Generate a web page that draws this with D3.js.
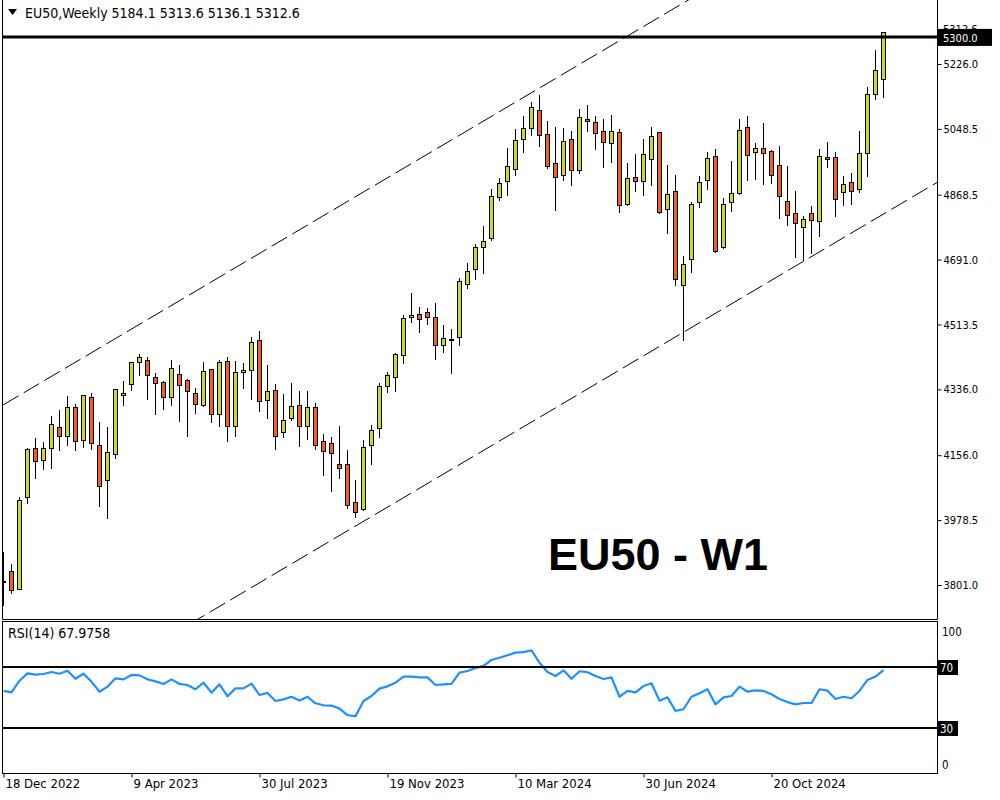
<!DOCTYPE html>
<html><head><meta charset="utf-8">
<script src="https://cdn.jsdelivr.net/npm/d3@7"></script>
<style>
body{margin:0;background:#fff;}
svg{display:block;font-family:"DejaVu Sans Condensed","DejaVu Sans",sans-serif;}
</style></head><body>
<svg id="c" width="1000" height="800"></svg>
<script>
// ---------------- data ----------------
const opens=[3810,3839.3,3790.8,4040.8,4175.7,4142.0,4174.9,4232.3,4207.7,4287.0,4196.7,4314.4,4183.1,4087.3,4158.5,4319.8,4349.9,4410.1,4415.6,4369.0,4355.4,4314.4,4377.3,4360.8,4325.3,4294.1,4390.9,4267.9,4412.8,4236.7,4382.7,4388.2,4470.3,4306.1,4333.5,4218.6,4258.6,4292.5,4236.7,4287.0,4194.0,4188.5,4131.1,4131.1,4027.2,4008.0,4183.1,4229.6,4344.4,4369.0,4429.2,4533.2,4541.4,4546.8,4533.2,4456.6,4473.8,4478.5,4623.4,4664.5,4724.6,4749.3,4861.4,4905.2,4938.0,5020.0,5050.1,5099.4,5033.7,4954.4,4921.6,5020.0,4935.3,5074.7,5066.5,5041.9,5009.1,5039.2,4842.2,4916.1,4905.2,4965.3,5039.2,4828.6,4877.8,4620.7,4691.8,4847.7,4907.9,4973.5,4724.6,4847.7,4872.3,5052.9,4984.5,4995.4,4987.2,4948.9,4850.5,4817.6,4779.3,4817.6,4795.8,4970.8,4970.8,4875.1,4902.4,4883.3,4981.7,5143.1,5184.1];
const highs=[3892,3857.6,4041.7,4176.5,4203.9,4192.1,4262.4,4279.6,4317.9,4295.2,4321.0,4325.3,4246.8,4233.1,4338.0,4358.1,4412.0,4432.0,4423.8,4380.0,4358.1,4415.6,4401.9,4363.6,4339.0,4410.1,4393.0,4415.6,4423.8,4412.8,4407.4,4478.5,4494.9,4401.9,4349.9,4322.6,4352.6,4330.8,4330.8,4297.9,4213.1,4204.9,4235.0,4169.4,4087.3,4196.7,4237.8,4352.6,4382.7,4434.7,4538.6,4599.6,4560.5,4557.8,4571.5,4511.3,4500.4,4639.8,4680.9,4732.8,4782.1,4883.3,4913.4,4995.4,5047.4,5082.9,5121.2,5140.4,5069.3,5052.9,5050.1,5041.9,5102.1,5113.0,5082.9,5074.7,5085.7,5047.4,4954.4,4979.0,5020.0,5052.9,5041.0,4948.9,4921.6,4700.0,4847.7,4918.8,4984.5,4992.7,4858.7,4959.9,5074.7,5082.9,5009.1,5063.8,4990.0,5000.9,4946.2,4877.8,4809.4,4836.8,4992.7,5011.8,4984.5,4918.8,4927.0,5041.9,5162.3,5263.5,5313.6];
const lows=[3746,3779.9,3789.0,4026.1,4094.4,4119.1,4121.8,4171.0,4184.7,4171.0,4179.2,4173.8,4017.9,3985.0,4149.2,4294.1,4335.1,4374.5,4310.5,4269.5,4283.2,4294.1,4250.4,4209.3,4270.6,4291.4,4247.6,4236.7,4195.6,4209.3,4340.6,4310.5,4277.7,4258.6,4173.8,4206.6,4253.1,4182.0,4201.1,4173.8,4102.7,4058.9,4094.4,4012.4,3987.8,4005.3,4133.3,4204.9,4328.0,4330.8,4407.4,4519.5,4492.1,4514.0,4418.3,4437.4,4380.0,4456.6,4612.5,4637.1,4653.5,4743.8,4853.2,4866.9,4921.6,4984.5,5031.0,5000.9,4940.7,4825.8,4907.9,4894.2,4927.0,5041.9,4992.7,4943.5,4957.1,4820.4,4839.5,4877.8,4866.9,4894.2,4817.6,4762.9,4620.7,4470.3,4656.3,4834.0,4883.3,4711.0,4721.9,4823.1,4869.6,4907.9,4910.6,4897.0,4899.7,4804.0,4784.8,4697.3,4689.1,4708.2,4754.7,4943.5,4809.4,4839.5,4842.2,4875.1,4918.8,5129.4,5136.1];
const closes=[3813,3786.5,4032.6,4172.9,4139.3,4175.7,4240.5,4207.7,4287.0,4194.0,4319.8,4188.5,4070.9,4163.9,4336.2,4325.3,4410.1,4423.8,4374.5,4352.6,4314.4,4393.7,4347.2,4330.8,4295.2,4385.5,4267.9,4410.1,4236.7,4382.7,4388.2,4464.8,4303.4,4330.8,4209.3,4251.4,4289.7,4236.7,4287.0,4184.7,4166.6,4161.2,4120.2,4019.0,3999.8,4177.6,4224.1,4344.4,4374.5,4432.0,4530.4,4538.6,4527.7,4533.2,4456.6,4475.7,4473.8,4631.6,4659.0,4724.6,4741.0,4864.1,4899.7,4946.2,5017.3,5050.1,5107.6,5031.0,4946.2,4916.1,5014.6,4935.3,5080.2,5069.3,5036.5,5011.8,5041.9,4839.5,4913.4,4905.2,4979.0,5028.2,4820.4,4869.6,4637.1,4678.1,4842.2,4902.4,4968.1,4713.7,4842.2,4872.3,5044.7,4976.3,4995.4,4981.7,4921.6,4864.1,4812.2,4790.3,4801.2,4798.5,4973.5,4965.3,4855.9,4897.0,4877.8,4981.7,5143.1,5208.8,5312.6];
const rsiValues=[54.3,53.4,61,65.8,65,65.4,66.7,65.6,67.6,62.3,65.6,60.4,53.8,57.1,62.6,61.9,64.8,64.5,61.9,60.6,58.9,61.9,58.9,58.2,55.4,59.7,53.2,58.6,50.8,56,56,59.1,51.6,53,47.7,48.8,50.5,48.1,50.5,46.2,44.9,44.7,42.7,38.5,37.7,47.7,51,55.8,57.3,59.7,63.7,63.7,63.2,63.2,58.2,58.6,58.9,66.3,67.4,69.3,70.7,74.6,76.1,77.7,79.4,79.8,80.9,72.8,66.7,64.1,67.8,62.3,67.2,66.6,64.1,62.1,63.2,50.5,54.3,53.4,57.5,59.3,47.9,50.1,41.2,42.3,50.5,52.8,55.4,45.5,50.1,51,57.1,53.8,54.7,54.3,52.1,49,47,45.5,46.4,46.4,55.4,54.5,49,50.5,49.5,54.3,61.5,63.7,67.98];
const priceTicks=[5226.0,5048.5,4868.5,4691.0,4513.5,4336.0,4156.0,3978.5,3801.0];
const dateTickIdx=[0,16,32,48,64,80,96];
const dateTickLabels=["18 Dec 2022","9 Apr 2023","30 Jul 2023","19 Nov 2023","10 Mar 2024","30 Jun 2024","20 Oct 2024"];
const rsiTicks=[100,70,30,0];
const rsiLevels=[70,30];
const hLineLevel=5300.0;
const lastClose=5312.6;
const channelUpper=[[0,4293.3],[110,5715.6]];
const channelLower=[[0,3392.5],[110,4814.8]];
const titleText="EU50,Weekly  5184.1 5313.6 5136.1 5312.6";
const watermark="EU50 - W1";
const rsiTitle="RSI(14) 67.9758";

// ---------------- layout ----------------
const L=3, R=937, mainTop=0, mainBot=619, rsiTop=621, rsiBot=773;
const bull="#c8dc2e", bear="#f45d1c";
const svg=d3.select("#c");
const x=d3.scaleLinear().domain([0,116.75]).range([L,R]);
const y=d3.scaleLinear().domain([3708,5401]).range([mainBot,mainTop]);
const yr=d3.scaleLinear().domain([0,100]).range([773.75,621.25]);
const px=v=>Math.round(v);
const axisFont="'DejaVu Sans Condensed','DejaVu Sans',sans-serif";

const defs=svg.append("defs");
defs.append("clipPath").attr("id","mc").append("rect")
  .attr("x",L).attr("y",mainTop).attr("width",R-L).attr("height",mainBot-mainTop);
defs.append("clipPath").attr("id","rc").append("rect")
  .attr("x",L).attr("y",rsiTop).attr("width",R-L).attr("height",rsiBot-rsiTop);
defs.append("clipPath").attr("id","lc").append("rect")
  .attr("x",R).attr("y",0).attr("width",63).attr("height",y(hLineLevel)-8);

// frames
svg.append("path").attr("d",`M${L-0.5},0V${mainBot+0.5}H${R+0.5}V0`).attr("fill","none").attr("stroke","#000");
svg.append("rect").attr("x",L-0.5).attr("y",rsiTop+0.5).attr("width",R-L+1).attr("height",rsiBot-rsiTop).attr("fill","none").attr("stroke","#000");

const g=svg.append("g").attr("clip-path","url(#mc)");

// channel lines (rays)
function ray(pts){
  const [i0,p0]=pts[0],[i1,p1]=pts[1];
  const f=i=>p0+(p1-p0)*(i-i0)/(i1-i0);
  const d=x.domain();
  return [[d[0],f(d[0])],[d[1],f(d[1])]];
}
[channelUpper,channelLower].forEach(c=>{
  g.append("path").datum(ray(c))
   .attr("d",d3.line().x(d=>x(d[0])).y(d=>y(d[1])))
   .attr("stroke","#000").attr("stroke-width",1).attr("stroke-dasharray","18,6").attr("fill","none");
});

// candles
const idx=d3.range(opens.length);
const cg=g.append("g");
cg.selectAll("line.w").data(idx).join("line")
  .attr("x1",i=>px(x(i))+0.5).attr("x2",i=>px(x(i))+0.5)
  .attr("y1",i=>px(y(highs[i]))).attr("y2",i=>px(y(lows[i]))+1)
  .attr("stroke","#000");
cg.selectAll("rect.b").data(idx).join("rect")
  .attr("x",i=>px(x(i))-1.5)
  .attr("y",i=>px(y(Math.max(opens[i],closes[i])))+0.5)
  .attr("width",4)
  .attr("height",i=>Math.max(px(y(Math.min(opens[i],closes[i])))-px(y(Math.max(opens[i],closes[i]))),1))
  .attr("fill",i=>closes[i]>=opens[i]?bull:bear)
  .attr("stroke","#000").attr("stroke-width",1);

// horizontal line
svg.append("line").attr("x1",L).attr("x2",R+4).attr("y1",y(hLineLevel)).attr("y2",y(hLineLevel))
  .attr("stroke","#000").attr("stroke-width",3);

// watermark
svg.append("text").attr("x",658).attr("y",570).attr("text-anchor","middle")
  .attr("font-family","'Liberation Sans',Arial,sans-serif").attr("font-weight","bold").attr("font-size",45)
  .attr("fill","#000").text(watermark);

// title
svg.append("path").attr("d","M8,9h9l-4.5,6z").attr("fill","#000");
svg.append("text").attr("x",25).attr("y",18).attr("font-size",14).attr("fill","#000").text(titleText);

// price axis
const ya=svg.append("g").attr("transform",`translate(${R+0.5},0)`)
  .call(d3.axisRight(y).tickValues(priceTicks).tickSize(4).tickPadding(2).tickFormat(d=>d.toFixed(1)));
ya.select(".domain").remove();
ya.selectAll("text").attr("font-size",11).attr("font-family",axisFont).attr("fill","#000");
ya.selectAll("line").attr("stroke","#000");

// last price label (partly hidden) and line label
svg.append("text").attr("clip-path","url(#lc)").attr("x",943).attr("y",y(lastClose)-3).attr("dy","0.35em").attr("font-size",11).attr("font-family",axisFont).attr("fill","#000").text(lastClose.toFixed(1));
svg.append("rect").attr("x",R+1).attr("y",y(hLineLevel)-8).attr("width",54).attr("height",17).attr("fill","#000");
svg.append("text").attr("x",943).attr("y",y(hLineLevel)+1).attr("dy","0.35em").attr("font-size",11).attr("font-family",axisFont).attr("fill","#fff").text(hLineLevel.toFixed(1));

// RSI panel
const rg=svg.append("g").attr("clip-path","url(#rc)");
rsiLevels.forEach(v=>{
  svg.append("line").attr("x1",L).attr("x2",R+2).attr("y1",yr(v)).attr("y2",yr(v)).attr("stroke","#000").attr("stroke-width",2);
});
rg.append("path").datum(idx)
  .attr("d",d3.line().x(i=>x(i)+0.5).y(i=>yr(rsiValues[i])))
  .attr("fill","none").attr("stroke","#1e90ff").attr("stroke-width",2.2).attr("stroke-linejoin","round");
svg.append("text").attr("x",8).attr("y",yr(100)+17).attr("font-size",14).attr("fill","#000").text(rsiTitle);

rsiTicks.forEach(v=>{
  const yy=v===100?yr(v)+11:(v===0?yr(v)-9:yr(v));
  if(rsiLevels.includes(v)){
    svg.append("rect").attr("x",R+1).attr("y",yy-7).attr("width",20).attr("height",15).attr("fill","#000");
    svg.append("text").attr("x",940).attr("y",yy+1).attr("dy","0.35em").attr("font-size",11.5).attr("font-family",axisFont).attr("fill","#fff").text(v);
  } else {
    svg.append("text").attr("x",942).attr("y",yy).attr("dy","0.35em").attr("font-size",11.5).attr("font-family",axisFont).attr("fill","#000").text(v);
  }
});

// time axis
const xa=svg.append("g").attr("transform",`translate(0,${rsiBot+0.5})`)
  .call(d3.axisBottom(x).tickValues(dateTickIdx).tickSize(4).tickFormat((d,k)=>dateTickLabels[k]));
xa.select(".domain").remove();
xa.selectAll(".tick line").attr("transform","translate(0.5,0)").attr("stroke","#000");
xa.selectAll("text").attr("text-anchor","start").attr("x",2).attr("y",9).attr("dy","0.4em")
  .attr("font-size",13).attr("font-family",axisFont).attr("fill","#000");
</script>
</body></html>
